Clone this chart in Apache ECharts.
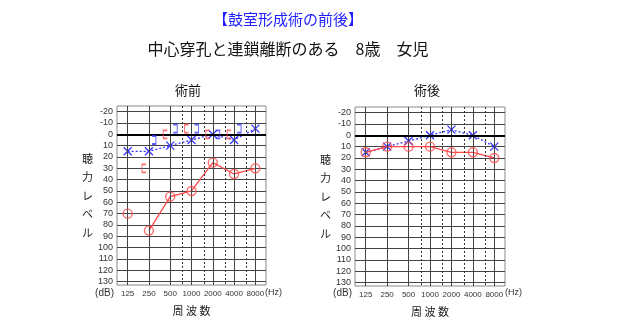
<!DOCTYPE html>
<html>
<head>
<meta charset="utf-8">
<script src="https://cdn.jsdelivr.net/npm/echarts@6/dist/echarts.min.js"></script>
<style>
  html, body { margin: 0; padding: 0; background: #fff; }
  #chart { width: 620px; height: 324px; }
</style>
</head>
<body>
<div id="chart"></div>
<script>
// 周波数 (Hz) and their tick labels
const freqs = [125, 250, 500, 1000, 2000, 4000, 8000];
const freqLabels = ['125', '250', '500', '1000', '2000', '4000', '8000'];
// half-octave guide lines (dotted)
const halfOctaveFreqs = [750, 1500, 3000, 6000];
// 聴力レベル tick labels (dB)
const dbLabels = [-20, -10, 0, 10, 20, 30, 40, 50, 60, 70, 80, 90, 100, 110, 120, 130];

// 術前 (before surgery)
const preRightAir  = [70, 85, 55, 50, 25, 35, 30];   // ○ 右 気導
const preLeftAir   = [15, 15, 10, 5, 0, 5, -5];      // × 左 気導
const preRightBone = [null, 30, 0, -5, 0, 0, null];  // [ 右 骨導
const preLeftBone  = [null, 5, -5, -5, 0, -5, null]; // ] 左 骨導
const preRightAirJoinFrom = 1;                       // 125 Hz point stands alone

// 術後 (after surgery)
const postRightAir = [15, 10, 10, 10, 15, 15, 20];
const postLeftAir  = [15, 10, 5, 0, -5, 0, 10];
const postRightAirJoinFrom = 0;

const RED = '#ff4848';
const BLUE = '#3535ff';
const GRID_DARK = '#444';
const JP = '"Noto Sans CJK JP", sans-serif';
const NUM = '"Liberation Sans", Arial, sans-serif';

// position on the x axis in half-octave steps: 125 Hz -> 1, 8000 Hz -> 13
const hx = f => 2 * Math.log2(f / 125) + 1;

const grids = [
  { left: 117, top: 106, width: 149, height: 179 },
  { left: 355, top: 107, width: 150, height: 179 }
];

function xAxisFor(gi) {
  return {
    gridIndex: gi, type: 'value', min: 0, max: 14, interval: 1,
    axisLine: { show: false }, axisTick: { show: false }, splitLine: { show: false },
    axisLabel: {
      margin: 5, fontSize: 8, color: '#333', fontFamily: NUM,
      formatter: v => (v % 2 === 1 ? freqLabels[(v - 1) / 2] : '')
    },
    name: '周 波 数', nameLocation: 'middle', nameGap: 20,
    nameTextStyle: { fontSize: 11, color: '#222', fontFamily: JP }
  };
}

function yAxisFor(gi) {
  return {
    gridIndex: gi, type: 'value', inverse: true, min: -25, max: 133, interval: 5,
    axisLine: { show: false }, axisTick: { show: false },
    splitLine: { show: true, lineStyle: { color: ['rgba(0,0,0,0)', GRID_DARK], width: 1 } },
    axisLabel: {
      margin: 4, fontSize: 9, color: '#333', fontFamily: NUM,
      formatter: v => (dbLabels.indexOf(v) >= 0 ? String(v) : '')
    },
    name: '聴\n力\nレ\nベ\nル', nameLocation: 'middle', nameRotate: 0, nameGap: 17,
    nameTextStyle: { fontSize: 11, color: '#222', fontFamily: JP, lineHeight: 18.5, padding: [6, 0, 0, 0] }
  };
}

function frameSeries(gi) {
  const lines = freqs.map(f => ({ xAxis: hx(f), lineStyle: { type: 'solid', color: GRID_DARK, width: 1 } }))
    .concat(halfOctaveFreqs.map(f => ({ xAxis: hx(f), lineStyle: { type: [2, 2], color: '#333', width: 1 } })))
    .concat([{ yAxis: 0, lineStyle: { type: 'solid', color: '#000', width: 2 } }]);
  return {
    type: 'scatter', xAxisIndex: gi, yAxisIndex: gi, data: [], z: 1, silent: true,
    markLine: { silent: true, symbol: 'none', label: { show: false }, animation: false, data: lines }
  };
}

const pts = (vals, from) => vals.map((v, i) => (i >= (from || 0) && v !== null ? [hx(freqs[i]), v] : null))
  .filter(p => p !== null);

function panelSeries(gi, rightAir, joinFrom, leftAir, rightBone, leftBone) {
  const s = [frameSeries(gi)];
  s.push({
    type: 'line', xAxisIndex: gi, yAxisIndex: gi, z: 3, silent: true,
    data: pts(leftAir), symbol: 'path://M0,0L10,10M10,0L0,10', symbolSize: 8,
    itemStyle: { color: 'rgba(0,0,0,0)', borderColor: BLUE, borderWidth: 1.3 },
    lineStyle: { color: BLUE, width: 1.3, type: [2, 2] }
  });
  s.push({
    type: 'line', xAxisIndex: gi, yAxisIndex: gi, z: 4, silent: true,
    data: pts(rightAir, joinFrom), showSymbol: false,
    lineStyle: { color: RED, width: 1.3 }
  });
  s.push({
    type: 'scatter', xAxisIndex: gi, yAxisIndex: gi, z: 5, silent: true,
    data: pts(rightAir), symbol: 'circle', symbolSize: 9,
    itemStyle: { color: 'rgba(0,0,0,0)', borderColor: RED, borderWidth: 1.4 }
  });
  if (rightBone) {
    s.push({
      type: 'scatter', xAxisIndex: gi, yAxisIndex: gi, z: 5, silent: true,
      data: pts(rightBone), symbol: 'path://M4,0L0,0L0,10L4,10', symbolSize: [4, 8],
      symbolOffset: [-5, 0],
      itemStyle: { color: 'rgba(0,0,0,0)', borderColor: RED, borderWidth: 1.3 }
    });
  }
  if (leftBone) {
    s.push({
      type: 'scatter', xAxisIndex: gi, yAxisIndex: gi, z: 5, silent: true,
      data: pts(leftBone), symbol: 'path://M0,0L4,0L4,10L0,10', symbolSize: [4, 8],
      symbolOffset: [5, 0],
      itemStyle: { color: 'rgba(0,0,0,0)', borderColor: BLUE, borderWidth: 1.3 }
    });
  }
  return s;
}

function txt(x, y, text, font, fill, align) {
  return { type: 'text', x: x, y: y, silent: true,
    style: { text: text, font: font, fill: fill, align: align || 'center', verticalAlign: 'middle' } };
}

const chart = echarts.init(document.getElementById('chart'), null, { renderer: 'canvas' });
chart.setOption({
  animation: false,
  backgroundColor: '#fff',
  grid: grids.map(g => Object.assign({ show: true, borderColor: '#8a8a8a', borderWidth: 1, containLabel: false }, g)),
  xAxis: [xAxisFor(0), xAxisFor(1)],
  yAxis: [yAxisFor(0), yAxisFor(1)],
  series: panelSeries(0, preRightAir, preRightAirJoinFrom, preLeftAir, preRightBone, preLeftBone)
    .concat(panelSeries(1, postRightAir, postRightAirJoinFrom, postLeftAir, null, null)),
  graphic: [
    txt(288, 19, '【鼓室形成術の前後】', '15px ' + JP, '#1e1eff'),
    txt(288, 49, '中心穿孔と連鎖離断のある　8歳　女児', '16px ' + JP, '#111'),
    txt(188, 90, '術前', '13px ' + JP, '#111'),
    txt(427, 90, '術後', '13px ' + JP, '#111'),
    txt(114, 293, '(dB)', '10px ' + NUM, '#333', 'right'),
    txt(352, 293, '(dB)', '10px ' + NUM, '#333', 'right'),
    txt(265, 293, '(Hz)', '9px ' + NUM, '#333', 'left'),
    txt(505, 293, '(Hz)', '9px ' + NUM, '#333', 'left')
  ]
});
</script>
</body>
</html>
